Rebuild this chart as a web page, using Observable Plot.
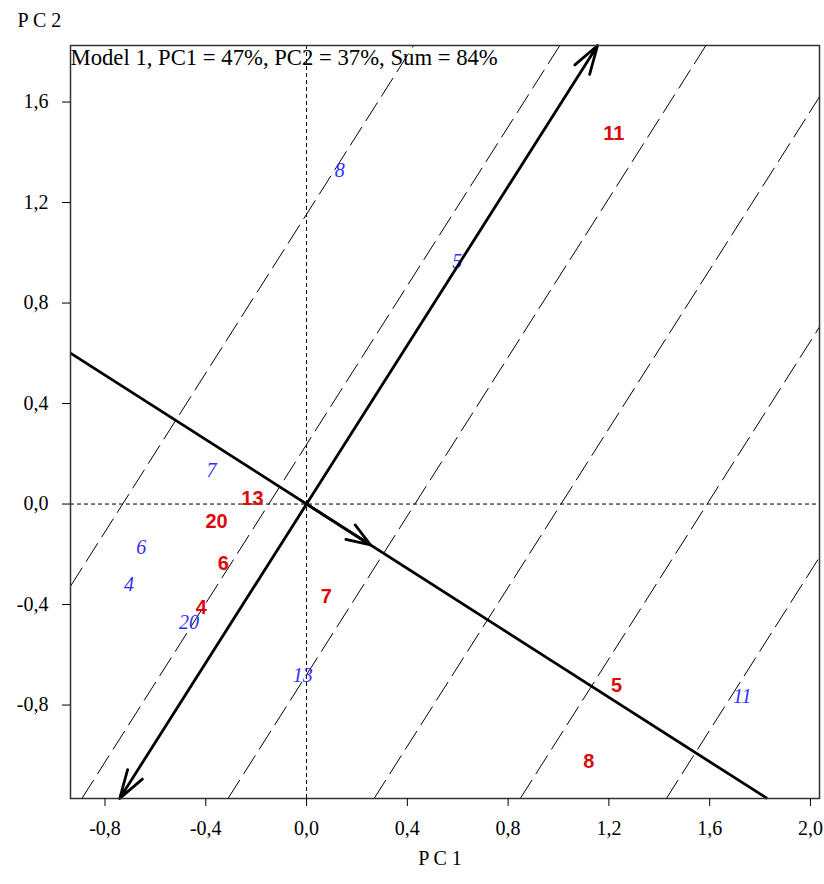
<!DOCTYPE html>
<html><head><meta charset="utf-8">
<script src="https://cdn.jsdelivr.net/npm/d3@7"></script>
<script src="https://cdn.jsdelivr.net/npm/@observablehq/plot@0.6"></script>
<style>body{margin:0;background:#fff} #chart svg{display:block}</style>
</head><body><div id="chart"></div>
<script>
// Genotype scores (red, bold)
const genotypes = ["11","13","20","6","4","7","5","8"];
const genotypeX = [1.220,-0.215,-0.357,-0.330,-0.418,0.078,1.230,1.120];
const genotypeY = [1.473,0.023,-0.071,-0.238,-0.413,-0.367,-0.721,-1.024];
// Environment scores (blue, italic)
const environments = ["8","5","7","6","4","20","13","11"];
const envX = [0.132,0.598,-0.377,-0.656,-0.705,-0.467,-0.015,1.729];
const envY = [1.327,0.965,0.135,-0.174,-0.320,-0.473,-0.681,-0.765];
// Axes
const xTicks = [-0.8,-0.4,0,0.4,0.8,1.2,1.6,2.0];
const yTicks = [-0.8,-0.4,0,0.4,0.8,1.2,1.6];
const xDomain = [-0.937, 2.036];
const yDomain = [-1.172, 1.825];
// Average environment coordination
const aecArrowTip = [0.254, -0.163];
const abscissaSlope = -0.641;
const ordinateSlope = 1.58;
const guideIntercepts = [-0.73, -0.15, 0.43, 1.01, 1.59, 2.17]; // PC1 where guides cross PC2 = 0
const title = "Model 1, PC1 = 47%, PC2 = 37%, Sum = 84%";
const xLabel = "P C 1", yLabel = "P C 2";

function clipLine(x0, s) {
  let a = x0 + yDomain[0] / s, b = x0 + yDomain[1] / s;
  if (a > b) [a, b] = [b, a];
  const lo = Math.max(a, xDomain[0]), hi = Math.min(b, xDomain[1]);
  if (lo >= hi) return null;
  return {x1: lo, y1: s * (lo - x0), x2: hi, y2: s * (hi - x0)};
}

const geno = genotypes.map((t, i) => ({t, x: genotypeX[i], y: genotypeY[i]}));
const env = environments.map((t, i) => ({t, x: envX[i], y: envY[i]}));
const guides = guideIntercepts.map(x0 => clipLine(x0, ordinateSlope)).filter(d => d);
const abscissa = [clipLine(0, abscissaSlope)];
const ord = clipLine(0, ordinateSlope);
const ordArrows = [{x1: 0, y1: 0, x2: ord.x1, y2: ord.y1}, {x1: 0, y1: 0, x2: ord.x2, y2: ord.y2}];
const aecArrow = [{x1: 0, y1: 0, x2: aecArrowTip[0], y2: aecArrowTip[1]}];

const serif = "'Liberation Serif', 'Times New Roman', serif";
const fmt = d => d.toFixed(1).replace(".", ",");

const chart = Plot.plot({
  width: 824, height: 884,
  marginLeft: 70, marginRight: 5, marginTop: 45, marginBottom: 86,
  x: {domain: xDomain},
  y: {domain: yDomain},
  style: {fontFamily: serif, background: "#fff", color: "#000"},
  marks: [
    Plot.link(guides, {x1: "x1", y1: "y1", x2: "x2", y2: "y2", stroke: "#000", strokeWidth: 1, strokeDasharray: "22,7"}),
    Plot.ruleX([0], {stroke: "#000", strokeWidth: 1, strokeDasharray: "4,3"}),
    Plot.ruleY([0], {stroke: "#000", strokeWidth: 1, strokeDasharray: "4,3"}),
    Plot.text(env, {x: "x", y: "y", text: "t", fill: "#2e2eff", fontStyle: "italic", fontSize: 20, fontFamily: serif}),
    Plot.link(abscissa, {x1: "x1", y1: "y1", x2: "x2", y2: "y2", stroke: "#000", strokeWidth: 2.8}),
    Plot.arrow(aecArrow, {x1: "x1", y1: "y1", x2: "x2", y2: "y2", stroke: "#000", strokeWidth: 2.8, headAngle: 40, headLength: 14.5}),
    Plot.arrow(ordArrows, {x1: "x1", y1: "y1", x2: "x2", y2: "y2", stroke: "#000", strokeWidth: 2.8, headAngle: 34, headLength: 16}),
    Plot.text(geno, {x: "x", y: "y", text: "t", fill: "#dd0a0a", fontWeight: "bold", fontSize: 20, fontFamily: "'Liberation Sans', Arial, sans-serif"}),
    Plot.frame({stroke: "#333", strokeWidth: 1.5}),
    Plot.axisX(xTicks, {tickSize: 8, tickPadding: 14, tickFormat: fmt, fontSize: 20, label: null, fontFamily: serif}),
    Plot.axisY(yTicks, {tickSize: 8, tickPadding: 14, tickFormat: fmt, fontSize: 20, label: null, fontFamily: serif}),
    Plot.text([title], {frameAnchor: "top-left", dx: 0, dy: 3, textAnchor: "start", lineAnchor: "top", fontSize: 22.7, fontFamily: serif}),
    Plot.text([yLabel], {frameAnchor: "top-left", dx: -53, dy: -33, textAnchor: "start", lineAnchor: "top", fontSize: 20, fontFamily: serif}),
    Plot.text([xLabel], {frameAnchor: "bottom", dx: -5, dy: 60, lineAnchor: "middle", fontSize: 20, fontFamily: serif})
  ]
});
document.getElementById("chart").appendChild(chart);
</script>
</body></html>
